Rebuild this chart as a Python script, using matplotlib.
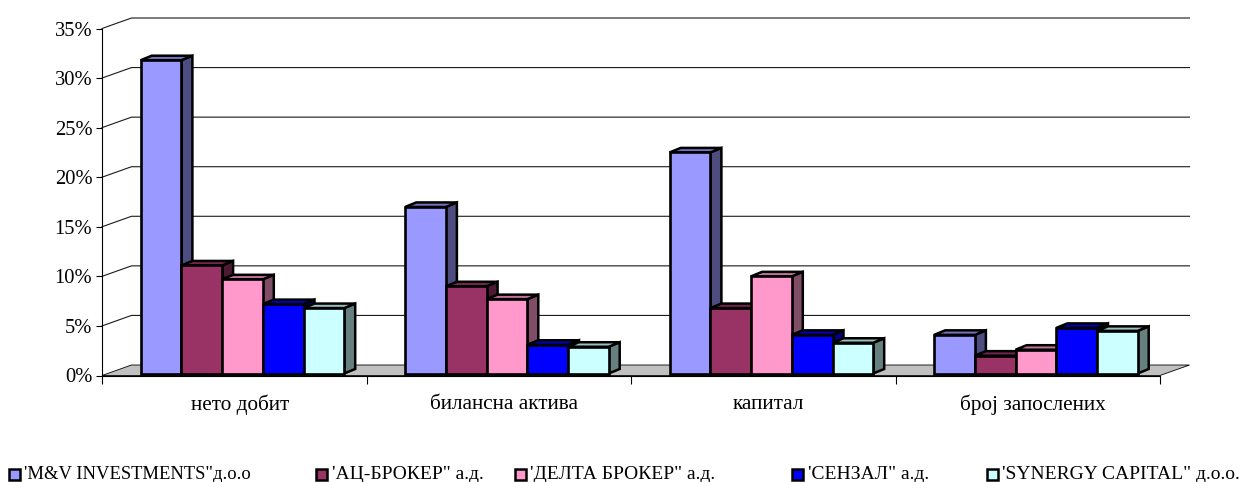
import numpy as np
import matplotlib
matplotlib.use("Agg")
import matplotlib.pyplot as plt
from matplotlib.patches import Polygon, Rectangle

categories = ["нето добит", "билансна актива", "капитал", "број запослених"]
companies = ["'M&V INVESTMENTS\"д.о.о", "'АЦ-БРОКЕР\" а.д.", "'ДЕЛТА БРОКЕР\" а.д.",
             "'СЕНЗАЛ\" а.д.", "'SYNERGY CAPITAL\" д.о.о."]

mv_investments = [31.6, 16.8, 22.3, 3.9]
ac_broker = [10.9, 8.8, 6.6, 1.8]
delta_broker = [9.5, 7.5, 9.8, 2.4]
senzal = [7.0, 2.9, 3.9, 4.6]
synergy = [6.6, 2.7, 3.1, 4.3]
series = [mv_investments, ac_broker, delta_broker, senzal, synergy]

y_ticks = [0, 5, 10, 15, 20, 25, 30, 35]
colors = ["#9999FF", "#993366", "#FF99CC", "#0000FF", "#CCFFFF"]
legend_x = [9, 316, 515, 792, 987]
legend_fs = [13.4, 14, 14, 14, 14]

W, H = 1245, 482
FONT = "Liberation Serif"
FS = 14.8

# plot area is the front plane of the fake 3D box, in pixels
x0, x1, y0, y35 = 102, 1160, 375.5, 28.5
px_x = 4 / (x1 - x0)
px_y = 35 / (y0 - y35)

# depth of the box and of one bar
wall_dx, wall_dy = 29.5 * px_x, 10.5 * px_y
bar_dx, bar_dy = 11 * px_x, 4.5 * px_y
bar_w = 40.7 * px_x
bar_start = 38.7 * px_x
bar_base = 2 * px_y


def shade(color, k):
    rgb = np.array(matplotlib.colors.to_rgb(color))
    return tuple(rgb * k)


fig = plt.figure(figsize=(W / 100, H / 100), dpi=100)
ax = fig.add_axes([x0 / W, 1 - y0 / H, (x1 - x0) / W, (y0 - y35) / H])
ax.set_xlim(0, 4)
ax.set_ylim(0, 35)
ax.patch.set_visible(False)
for s in ["top", "right"]:
    ax.spines[s].set_visible(False)
for s in ["left", "bottom"]:
    ax.spines[s].set_linewidth(0.8)
    ax.spines[s].set_zorder(1)

ax.set_yticks(y_ticks)
ax.set_yticklabels([f"{v}%" for v in y_ticks], family=FONT, fontsize=FS)
ax.set_xticks(range(5))
ax.set_xticklabels([])
ax.tick_params(axis="y", length=4, width=0.8, pad=3, color="black")
ax.tick_params(axis="x", length=6, width=0.8)
for i, name in enumerate(categories):
    ax.text(i + 0.5 + 5.5 * px_x, -29 * px_y, name, family=FONT, fontsize=15.3, ha="center", va="center")

# floor
ax.add_patch(Polygon([(0, 0), (wall_dx, wall_dy), (4 + wall_dx, wall_dy), (4, 0)],
                     closed=True, fc="#C0C0C0", ec="black", lw=0.6, clip_on=False, zorder=1))

# back wall grid lines with the diagonal bit going to the axis
for v in y_ticks[1:]:
    ax.plot([0, wall_dx, 4 + wall_dx], [v, v + wall_dy, v + wall_dy], color="#1a1a1a",
            lw=0.8, clip_on=False, zorder=1)

# bars, left to right so that each one covers the side of the previous
z = 3
for c in range(len(categories)):
    for s, values in enumerate(series):
        left = c + bar_start + s * bar_w
        top = bar_base + values[c]
        right = left + bar_w
        ax.add_patch(Polygon([(right, bar_base), (right + bar_dx, bar_base + bar_dy),
                              (right + bar_dx, top + bar_dy), (right, top)],
                             closed=True, fc=shade(colors[s], 0.5), ec="black", lw=1.8,
                             joinstyle="miter", clip_on=False, zorder=z))
        ax.add_patch(Polygon([(left, top), (left + bar_dx, top + bar_dy),
                              (right + bar_dx, top + bar_dy), (right, top)],
                             closed=True, fc=shade(colors[s], 0.75), ec="black", lw=1.8,
                             joinstyle="miter", clip_on=False, zorder=z))
        ax.bar(left, values[c], width=bar_w, bottom=bar_base, align="edge", color=colors[s],
               edgecolor="black", linewidth=1.9, clip_on=False, zorder=z + 1)
        z += 2

# legend, the gaps in the original are uneven so it is placed by hand
for lx, name, col, fs in zip(legend_x, companies, colors, legend_fs):
    fig.add_artist(Rectangle((lx / W, 1 - 479.5 / H), 11 / W, 11 / H, transform=fig.transFigure,
                             fc=col, ec="black", lw=1.8))
    fig.text((lx + 15.5) / W, 1 - 474.5 / H, name, family=FONT, fontsize=fs, va="center")

fig.savefig("out.png", dpi=100)
